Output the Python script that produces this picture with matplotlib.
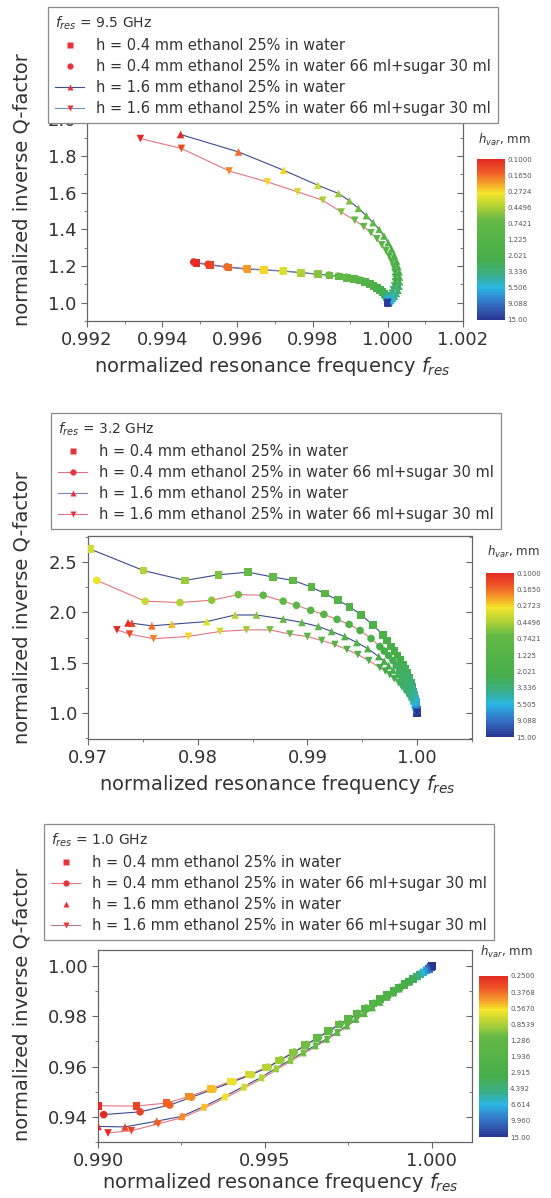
import matplotlib
matplotlib.use('Agg')
import matplotlib.pyplot as plt
from matplotlib.colors import LinearSegmentedColormap, LogNorm
from matplotlib.lines import Line2D
from matplotlib.ticker import MultipleLocator, FormatStrFormatter
import matplotlib.cm as cm

# ---------------- data ----------------
labels = ['h = 0.4 mm ethanol 25% in water',
          'h = 0.4 mm ethanol 25% in water 66 ml+sugar 30 ml',
          'h = 1.6 mm ethanol 25% in water',
          'h = 1.6 mm ethanol 25% in water 66 ml+sugar 30 ml']
titles = [r'$f_{res}$ = 9.5 GHz', r'$f_{res}$ = 3.2 GHz', r'$f_{res}$ = 1.0 GHz']

# Panel 1 (9.5 GHz)
p1_f_a = [0.99491, 0.99527, 0.99576, 0.99627, 0.99671, 0.99723, 0.99769, 0.99814, 0.99845, 0.99870,
          0.99892, 0.99910, 0.99926, 0.99940, 0.99952, 0.99962, 0.99971, 0.99979, 0.99986, 0.99991,
          0.99995, 0.99998, 1.00000, 1.00001, 1.00001, 1.00001, 1.00000, 1.00000, 1.00000, 1.00000]
p1_q_a = [1.217, 1.205, 1.192, 1.183, 1.178, 1.172, 1.163, 1.155, 1.149, 1.143,
          1.136, 1.129, 1.121, 1.112, 1.102, 1.092, 1.081, 1.070, 1.059, 1.049,
          1.040, 1.032, 1.025, 1.019, 1.014, 1.010, 1.006, 1.003, 1.001, 1.000]
p1_h_a = [0.10, 0.125, 0.165, 0.21, 0.27, 0.34, 0.44, 0.55, 0.64, 0.74,
          0.85, 0.97, 1.1, 1.25, 1.4, 1.58, 1.78, 2.0, 2.25, 2.55,
          2.9, 3.3, 3.8, 4.4, 5.2, 6.2, 7.5, 9.2, 11.5, 15]
p1_f_b = [0.99484, 0.99522, 0.99572, 0.99623, 0.99668, 0.99720, 0.99767, 0.99812, 0.99843, 0.99868,
          0.99890, 0.99909, 0.99925, 0.99939, 0.99951, 0.99962, 0.99971, 0.99979, 0.99986, 0.99992,
          0.99996, 0.99999, 1.00001, 1.00002, 1.00002, 1.00001, 1.00001, 1.00000, 1.00000, 1.00000]
p1_q_b = [1.222, 1.210, 1.196, 1.186, 1.180, 1.174, 1.165, 1.157, 1.151, 1.145,
          1.139, 1.132, 1.124, 1.115, 1.105, 1.095, 1.084, 1.073, 1.062, 1.052,
          1.043, 1.035, 1.027, 1.021, 1.015, 1.011, 1.007, 1.003, 1.001, 1.000]
p1_h_b = [0.10, 0.125, 0.165, 0.21, 0.27, 0.34, 0.44, 0.55, 0.64, 0.74,
          0.85, 0.97, 1.1, 1.25, 1.4, 1.58, 1.78, 2.0, 2.25, 2.55,
          2.9, 3.3, 3.8, 4.4, 5.2, 6.2, 7.5, 9.2, 11.5, 15]
p1_f_c = [0.99449, 0.99603, 0.99723, 0.99814, 0.99869, 0.99898, 0.99922, 0.99943, 0.99961, 0.99977,
          0.99990, 1.00001, 1.00010, 1.00017, 1.00023, 1.00027, 1.00030, 1.00031, 1.00031, 1.00030,
          1.00027, 1.00023, 1.00018, 1.00013, 1.00008, 1.00004, 1.00001, 1.00000, 1.00000]
p1_q_c = [1.918, 1.823, 1.723, 1.641, 1.596, 1.556, 1.515, 1.475, 1.437, 1.400,
          1.364, 1.328, 1.293, 1.260, 1.228, 1.197, 1.168, 1.140, 1.114, 1.090,
          1.068, 1.050, 1.035, 1.023, 1.013, 1.006, 1.002, 1.000, 0.998]
p1_h_c = [0.10, 0.165, 0.27, 0.38, 0.50, 0.58, 0.66, 0.75, 0.85, 0.95,
          1.06, 1.18, 1.31, 1.45, 1.6, 1.77, 1.96, 2.17, 2.4, 2.7,
          3.0, 3.4, 3.9, 4.6, 5.5, 6.8, 8.6, 11.2, 15]
p1_f_d = [0.99342, 0.99451, 0.99578, 0.99680, 0.99760, 0.99827, 0.99876, 0.99912, 0.99936, 0.99955,
          0.99971, 0.99984, 0.99995, 1.00004, 1.00011, 1.00016, 1.00019, 1.00020, 1.00020, 1.00018,
          1.00015, 1.00012, 1.00008, 1.00005, 1.00002, 1.00001, 1.00000, 1.00000]
p1_q_d = [1.896, 1.842, 1.719, 1.659, 1.605, 1.559, 1.495, 1.450, 1.415, 1.382,
          1.349, 1.316, 1.284, 1.253, 1.223, 1.194, 1.166, 1.139, 1.114, 1.091,
          1.070, 1.052, 1.037, 1.024, 1.014, 1.007, 1.002, 0.999]
p1_h_d = [0.10, 0.13, 0.19, 0.27, 0.36, 0.46, 0.58, 0.70, 0.80, 0.90,
          1.01, 1.13, 1.26, 1.40, 1.56, 1.73, 1.92, 2.13, 2.37, 2.65,
          2.97, 3.35, 3.85, 4.5, 5.5, 7.0, 9.5, 15]

# Panel 2 (3.2 GHz)
p2_f_a = [0.9702, 0.97506, 0.97885, 0.98188, 0.9846, 0.98688, 0.9887, 0.99036, 0.99158, 0.99279,
          0.99385, 0.99491, 0.99597, 0.99688, 0.99728, 0.99760, 0.99792, 0.99822, 0.99848, 0.99872,
          0.99893, 0.99912, 0.99928, 0.99943, 0.99955, 0.99966, 0.99974, 0.99981, 0.99987, 0.99991,
          0.99995, 0.99997, 0.99999, 1.0]
p2_q_a = [2.63, 2.416, 2.318, 2.374, 2.40, 2.351, 2.318, 2.252, 2.187, 2.121,
          2.056, 1.974, 1.875, 1.777, 1.72, 1.66, 1.615, 1.57, 1.525, 1.48,
          1.44, 1.40, 1.35, 1.30, 1.255, 1.21, 1.175, 1.14, 1.11, 1.08,
          1.055, 1.03, 1.015, 1.0]
p2_h_a = [0.36, 0.43, 0.50, 0.58, 0.66, 0.75, 0.85, 0.96, 1.08, 1.2,
          1.32, 1.45, 1.6, 1.76, 1.85, 1.95, 2.05, 2.16, 2.28, 2.4,
          2.55, 2.7, 2.9, 3.1, 3.35, 3.65, 4.0, 4.5, 5.1, 6.0,
          7.2, 9.0, 11.5, 15]
p2_f_b = [0.9708, 0.97521, 0.97839, 0.98127, 0.9837, 0.98597, 0.98779, 0.9890, 0.9903, 0.9915,
          0.9927, 0.9938, 0.9948, 0.9958, 0.9966, 0.9970, 0.9974, 0.9978, 0.9981, 0.9984,
          0.9987, 0.99895, 0.9992, 0.9994, 0.99955, 0.99968, 0.9998, 0.99988, 0.99993, 0.99997, 1.0]
p2_q_b = [2.318, 2.111, 2.098, 2.121, 2.177, 2.170, 2.111, 2.07, 2.02, 1.98,
          1.93, 1.88, 1.82, 1.74, 1.66, 1.615, 1.57, 1.52, 1.47, 1.42,
          1.37, 1.32, 1.27, 1.225, 1.18, 1.145, 1.11, 1.08, 1.05, 1.025, 1.0]
p2_h_b = [0.30, 0.38, 0.45, 0.53, 0.62, 0.72, 0.83, 0.95, 1.07, 1.2,
          1.35, 1.5, 1.66, 1.84, 2.0, 2.12, 2.25, 2.4, 2.55, 2.72,
          2.9, 3.1, 3.35, 3.65, 4.0, 4.5, 5.2, 6.2, 7.8, 10.5, 15]
p2_f_c = [0.97365, 0.9740, 0.97582, 0.97764, 0.98082, 0.9834, 0.98536, 0.98779, 0.9895, 0.9910,
          0.9922, 0.9934, 0.9945, 0.9955, 0.9965, 0.9970, 0.9974, 0.9978, 0.9982, 0.9985,
          0.9988, 0.99905, 0.9993, 0.9995, 0.99965, 0.99977, 0.99986, 0.99993, 0.99997, 1.0]
p2_q_c = [1.895, 1.892, 1.866, 1.882, 1.908, 1.974, 1.974, 1.934, 1.90, 1.86,
          1.81, 1.76, 1.70, 1.64, 1.56, 1.515, 1.47, 1.425, 1.38, 1.335,
          1.29, 1.245, 1.20, 1.16, 1.12, 1.09, 1.06, 1.035, 1.015, 1.0]
p2_h_c = [0.10, 0.125, 0.165, 0.24, 0.33, 0.43, 0.55, 0.68, 0.82, 0.97,
          1.13, 1.3, 1.48, 1.68, 1.9, 2.02, 2.15, 2.3, 2.46, 2.64,
          2.85, 3.1, 3.4, 3.8, 4.3, 5.0, 6.0, 7.6, 10.2, 15]
p2_f_d = [0.97264, 0.97379, 0.97597, 0.97915, 0.98203, 0.98445, 0.98658, 0.9884, 0.9900, 0.9913,
          0.9925, 0.9936, 0.9946, 0.9956, 0.9966, 0.9971, 0.9975, 0.9979, 0.9983, 0.9986,
          0.9989, 0.99915, 0.99935, 0.99952, 0.99968, 0.9998, 0.99988, 0.99994, 0.99998, 1.0]
p2_q_d = [1.826, 1.784, 1.738, 1.761, 1.810, 1.826, 1.826, 1.784, 1.76, 1.72,
          1.68, 1.63, 1.58, 1.52, 1.45, 1.415, 1.38, 1.34, 1.30, 1.26,
          1.22, 1.185, 1.15, 1.115, 1.08, 1.055, 1.035, 1.02, 1.008, 1.0]
p2_h_d = [0.10, 0.13, 0.18, 0.27, 0.37, 0.48, 0.60, 0.73, 0.87, 1.02,
          1.18, 1.36, 1.55, 1.76, 2.0, 2.12, 2.25, 2.4, 2.56, 2.74,
          2.95, 3.2, 3.5, 3.9, 4.5, 5.3, 6.5, 8.3, 11, 15]

# Panel 3 (1.0 GHz)
p3_h = [0.25, 0.30, 0.36, 0.43, 0.52, 0.62, 0.72, 0.82, 0.92, 1.02, 1.12, 1.22, 1.33, 1.45, 1.57, 1.70,
        1.83, 1.97, 2.12, 2.28, 2.45, 2.65, 2.90, 3.20, 3.60, 4.20, 5.00, 6.20, 7.80, 10.0, 12.5, 15.0]
p3_f_a = [0.99000, 0.99115, 0.99205, 0.99272, 0.99338, 0.99398, 0.99453, 0.99503, 0.99542, 0.99582, 0.99620, 0.99655,
          0.99688, 0.99720, 0.99748, 0.99774, 0.99799, 0.99823, 0.99845, 0.99866, 0.99885, 0.99902, 0.99918, 0.99932,
          0.99944, 0.99955, 0.99965, 0.99975, 0.99984, 0.99991, 0.99997, 1.0]
p3_q_a = [0.9444, 0.9443, 0.9455, 0.9481, 0.9512, 0.9541, 0.9568, 0.9596, 0.9624, 0.9655, 0.9685, 0.9714,
          0.9741, 0.9767, 0.9789, 0.9811, 0.9832, 0.9851, 0.9869, 0.9886, 0.9901, 0.9915, 0.9928, 0.9939,
          0.9949, 0.9958, 0.9967, 0.9975, 0.9982, 0.9989, 0.9996, 1.0]
p3_f_b = [0.99017, 0.99126, 0.99215, 0.99280, 0.99345, 0.99405, 0.99460, 0.99510, 0.99548, 0.99588, 0.99625, 0.99660,
          0.99693, 0.99725, 0.99752, 0.99778, 0.99803, 0.99827, 0.99849, 0.99869, 0.99888, 0.99905, 0.99920, 0.99934,
          0.99946, 0.99957, 0.99967, 0.99976, 0.99985, 0.99992, 0.99997, 1.0]
p3_q_b = [0.9409, 0.9420, 0.9447, 0.9478, 0.9510, 0.9540, 0.9568, 0.9598, 0.9627, 0.9658, 0.9688, 0.9716,
          0.9743, 0.9769, 0.9791, 0.9812, 0.9833, 0.9852, 0.9870, 0.9887, 0.9902, 0.9916, 0.9929, 0.9940,
          0.9950, 0.9959, 0.9968, 0.9975, 0.9983, 0.9990, 0.9996, 1.0]
p3_f_c = [0.99000, 0.99081, 0.99176, 0.99250, 0.99315, 0.99378, 0.99435, 0.99488, 0.99532, 0.99575, 0.99614, 0.99650,
          0.99684, 0.99716, 0.99745, 0.99772, 0.99797, 0.99821, 0.99844, 0.99865, 0.99884, 0.99901, 0.99917, 0.99931,
          0.99944, 0.99955, 0.99965, 0.99974, 0.99983, 0.99991, 0.99997, 1.0]
p3_q_c = [0.9362, 0.9360, 0.9383, 0.9402, 0.9440, 0.9481, 0.9520, 0.9557, 0.9593, 0.9626, 0.9656, 0.9684,
          0.9710, 0.9737, 0.9763, 0.9789, 0.9812, 0.9835, 0.9857, 0.9877, 0.9894, 0.9910, 0.9924, 0.9937,
          0.9949, 0.9959, 0.9968, 0.9976, 0.9984, 0.9991, 0.9997, 1.0]
p3_f_d = [0.99030, 0.99100, 0.99180, 0.99255, 0.99320, 0.99383, 0.99440, 0.99492, 0.99536, 0.99578, 0.99617, 0.99653,
          0.99687, 0.99718, 0.99747, 0.99774, 0.99799, 0.99823, 0.99845, 0.99866, 0.99885, 0.99902, 0.99918, 0.99932,
          0.99945, 0.99956, 0.99966, 0.99975, 0.99984, 0.99991, 0.99997, 1.0]
p3_q_d = [0.9336, 0.9345, 0.9372, 0.9398, 0.9436, 0.9477, 0.9516, 0.9553, 0.9589, 0.9622, 0.9653, 0.9681,
          0.9708, 0.9735, 0.9761, 0.9787, 0.9810, 0.9833, 0.9855, 0.9875, 0.9892, 0.9908, 0.9923, 0.9936,
          0.9948, 0.9958, 0.9967, 0.9975, 0.9983, 0.9991, 0.9997, 1.0]

# colour bar ticks
cb12_ticks = [0.1, 0.165, 0.2724, 0.4496, 0.7421, 1.225, 2.021, 3.336, 5.506, 9.088, 15.0]
cb1_labels = ['0.1000', '0.1650', '0.2724', '0.4496', '0.7421', '1.225', '2.021', '3.336', '5.506', '9.088', '15.00']
cb2_labels = ['0.1000', '0.1650', '0.2723', '0.4496', '0.7421', '1.225', '2.021', '3.336', '5.505', '9.088', '15.00']
cb3_ticks = [0.25, 0.3765, 0.567, 0.8539, 1.286, 1.936, 2.915, 4.392, 6.614, 9.960, 15.0]
cb3_labels = ['0.2500', '0.3768', '0.5670', '0.8539', '1.286', '1.936', '2.915', '4.392', '6.614', '9.960', '15.00']

# ---------------- figure ----------------
W, H = 551, 1198
fig = plt.figure(figsize=(W / 100, H / 100), dpi=100)
plt.rcParams['font.family'] = ['DejaVu Sans']


def fx(px):
    return px / W


def fy(py):
    return 1 - py / H


cmap = LinearSegmentedColormap.from_list('hvar', [
    (0.0, '#e42a24'), (0.08, '#ef5a27'), (0.15, '#f5a02a'), (0.21, '#f6e52b'),
    (0.29, '#b5d336'), (0.38, '#64b946'), (0.62, '#46ad49'), (0.72, '#3aae86'),
    (0.80, '#29b6e3'), (0.89, '#3577c9'), (1.0, '#2a3591')])

NAVY = '#3c4a8e'
PINK = '#e27482'
RED = '#e8323c'
GREY = '#333333'
markers = ['s', 'o', '^', 'v']


def panel(rect, xlim, ylim, xmaj, xmin, ymaj, ymin, xfmt, yfmt, series, line_cols,
          norm, legend_lines, legend_anchor, title, cb_rect, cb_ticks, cb_labels, cb_label_xy,
          ylabel_y, xlabel_xy):
    x0, y0, x1, y1 = rect
    ax = fig.add_axes([fx(x0), fy(y1), fx(x1) - fx(x0), fy(y0) - fy(y1)])
    for (f, q, h), mk, lc in zip(series, markers, line_cols):
        ax.plot(f, q, color=lc, lw=0.8, zorder=2)
        ax.scatter(f, q, c=h, cmap=cmap, norm=norm, marker=mk, s=30, edgecolors='none', zorder=3)
    ax.set_xlim(*xlim)
    ax.set_ylim(*ylim)
    ax.xaxis.set_major_locator(MultipleLocator(xmaj))
    ax.xaxis.set_minor_locator(MultipleLocator(xmin))
    ax.yaxis.set_major_locator(MultipleLocator(ymaj))
    ax.yaxis.set_minor_locator(MultipleLocator(ymin))
    ax.xaxis.set_major_formatter(FormatStrFormatter(xfmt))
    ax.yaxis.set_major_formatter(FormatStrFormatter(yfmt))
    ax.tick_params(which='both', direction='out', colors='#666666', labelcolor=GREY, labelsize=13)
    ax.tick_params(which='major', length=4)
    ax.tick_params(which='minor', length=2.5)
    for s in ax.spines.values():
        s.set_color('#666666')
        s.set_linewidth(0.9)
    ax2 = ax.twinx()
    ax2.set_ylim(*ylim)
    ax2.yaxis.set_major_locator(MultipleLocator(ymaj))
    ax2.yaxis.set_minor_locator(MultipleLocator(ymin))
    ax2.tick_params(which='both', direction='in', colors='#666666', labelright=False)
    ax2.tick_params(which='major', length=4)
    ax2.tick_params(which='minor', length=2.5)
    for s in ax2.spines.values():
        s.set_visible(False)

    handles = []
    for mk, ll in zip(markers, legend_lines):
        handles.append(Line2D([], [], color=ll if ll else 'none', lw=0.8,
                              linestyle='-' if ll else 'None', marker=mk, markersize=4.5,
                              markerfacecolor=RED, markeredgecolor='none'))
    leg = fig.legend(handles, labels, loc='upper left', bbox_to_anchor=(fx(legend_anchor[0]), fy(legend_anchor[1])),
                     bbox_transform=fig.transFigure, borderaxespad=0, fontsize=10.5, title=title,
                     title_fontsize=10, alignment='left', frameon=True, fancybox=False,
                     edgecolor='#8a8a8a', framealpha=1, labelspacing=0.42, handlelength=2.0,
                     handletextpad=0.8, borderpad=0.5)
    for t in leg.get_texts():
        t.set_color(GREY)
    leg.get_title().set_color(GREY)
    leg.get_frame().set_linewidth(0.9)

    cx0, cy0, cx1, cy1 = cb_rect
    cax = fig.add_axes([fx(cx0), fy(cy1), fx(cx1) - fx(cx0), fy(cy0) - fy(cy1)])
    cb = fig.colorbar(cm.ScalarMappable(norm=norm, cmap=cmap), cax=cax)
    cb.set_ticks(cb_ticks)
    cb.set_ticklabels(cb_labels)
    cb.minorticks_off()
    cax.invert_yaxis()
    cb.outline.set_visible(False)
    cax.tick_params(length=0, labelsize=5, pad=1.5, labelcolor='#555555')
    fig.text(fx(cb_label_xy[0]), fy(cb_label_xy[1]), r'$h_{var}$, mm', fontsize=8.5, color=GREY,
             ha='left', va='center')

    fig.text(fx(22), fy(ylabel_y), 'normalized inverse Q-factor', rotation=90, fontsize=14,
             color=GREY, ha='center', va='center')
    fig.text(fx(xlabel_xy[0]), fy(xlabel_xy[1]), r'normalized resonance frequency $f_{res}$', fontsize=14,
             color=GREY, ha='center', va='center')
    return ax


panel((87, 119.5, 463, 321), (0.992, 1.002), (0.9, 2.0), 0.002, 0.001, 0.2, 0.1, '%.3f', '%.1f',
      [(p1_f_a, p1_q_a, p1_h_a), (p1_f_b, p1_q_b, p1_h_b), (p1_f_c, p1_q_c, p1_h_c), (p1_f_d, p1_q_d, p1_h_d)],
      ['#6f7aa6', '#6f7aa6', NAVY, PINK], LogNorm(0.1, 15), [None, None, NAVY, '#6a93b8'], (48, 7), titles[0],
      (477, 159, 505, 320), cb12_ticks, cb1_labels, (478, 140), 190, (272, 367))

panel((88, 536, 472, 739), (0.97, 1.005), (0.74, 2.76), 0.01, 0.005, 0.5, 0.25, '%.2f', '%.1f',
      [(p2_f_a, p2_q_a, p2_h_a), (p2_f_b, p2_q_b, p2_h_b), (p2_f_c, p2_q_c, p2_h_c), (p2_f_d, p2_q_d, p2_h_d)],
      [NAVY, PINK, NAVY, PINK], LogNorm(0.1, 15), [None, PINK, '#7a82b0', PINK], (51, 413), titles[1],
      (486, 573, 514, 737), cb12_ticks, cb2_labels, (487, 552), 608, (277, 785))

panel((98, 950, 472, 1142), (0.990, 1.0012), (0.93, 1.0064), 0.005, 0.0025, 0.02, 0.01, '%.3f', '%.2f',
      [(p3_f_a, p3_q_a, p3_h), (p3_f_b, p3_q_b, p3_h), (p3_f_c, p3_q_c, p3_h), (p3_f_d, p3_q_d, p3_h)],
      [PINK, NAVY, NAVY, PINK], LogNorm(0.25, 15), [None, PINK, None, '#b07a90'], (44, 824), titles[2],
      (479, 976, 508, 1137), cb3_ticks, cb3_labels, (480, 952), 1005, (280, 1183))

fig.savefig('out.png', dpi=100)
